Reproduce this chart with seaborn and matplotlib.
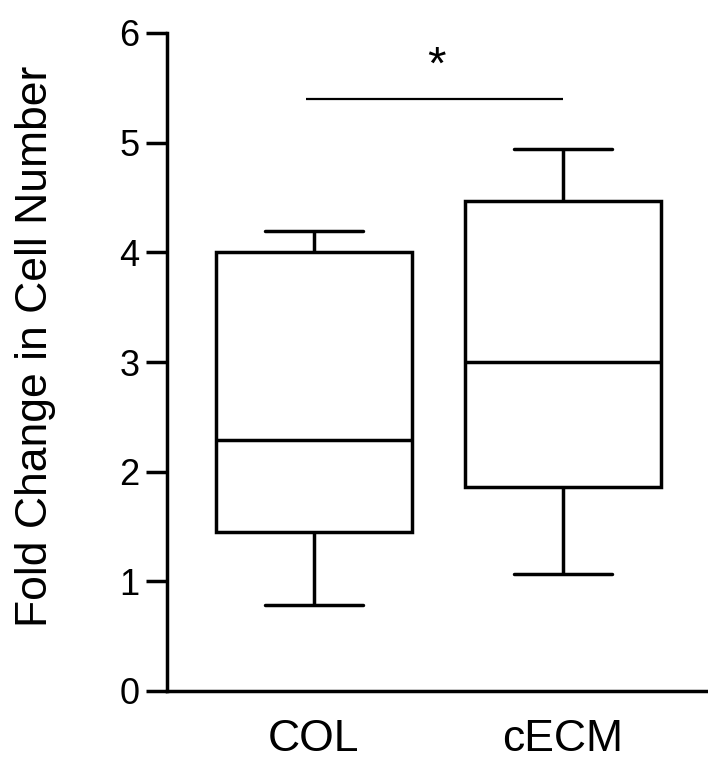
import pandas as pd
import matplotlib
matplotlib.use("Agg")
import matplotlib.pyplot as plt
import seaborn as sns

# values: min, Q1, median, Q3, max for each group
groups = ["COL", "cECM"]
col_values = [0.78, 1.45, 2.29, 4.00, 4.19]
cecm_values = [1.07, 1.86, 3.00, 4.47, 4.94]
y_ticks = [0, 1, 2, 3, 4, 5, 6]
sig_label = "*"
sig_height = 5.40

sns.set_style("ticks")
plt.rcParams["font.family"] = ["Liberation Sans", "DejaVu Sans"]
plt.rcParams["text.color"] = "black"
plt.rcParams["axes.labelcolor"] = "black"
plt.rcParams["xtick.color"] = "black"
plt.rcParams["ytick.color"] = "black"
plt.rcParams["axes.edgecolor"] = "black"

df = pd.DataFrame({
    "group": [groups[0]] * len(col_values) + [groups[1]] * len(cecm_values),
    "fold_change": col_values + cecm_values,
})

fig = plt.figure(figsize=(7.08, 7.6), dpi=100)
ax = fig.add_axes([167 / 708, 69 / 760, 541 / 708, 658 / 760])

lw = 2.5
sns.boxplot(data=df, x="group", y="fold_change", order=groups, ax=ax,
            whis=(0, 100), width=0.79, color="white", linecolor="black",
            linewidth=lw, showfliers=False)

# significance bar
ax.plot([-0.03, 1.0], [sig_height, sig_height], color="black", lw=1.6,
        solid_capstyle="butt")
ax.text(0.49, sig_height + 0.18, sig_label, ha="center", va="baseline",
        fontsize=34, color="black")

ax.set_xlim(-0.59, 1.582)
ax.set_ylim(0, 6)
ax.set_yticks(y_ticks)
ax.set_xlabel("")
ax.set_ylabel("Fold Change in Cell Number", fontsize=32)
ax.yaxis.set_label_coords(-0.205, 0.523)

sns.despine(ax=ax)
for side in ["left", "bottom"]:
    ax.spines[side].set_linewidth(lw)
ax.tick_params(axis="y", length=15, width=lw, labelsize=26, pad=5)
ax.tick_params(axis="x", length=0, labelsize=32, pad=20)

plt.savefig("out.png", dpi=100)
plt.close()
